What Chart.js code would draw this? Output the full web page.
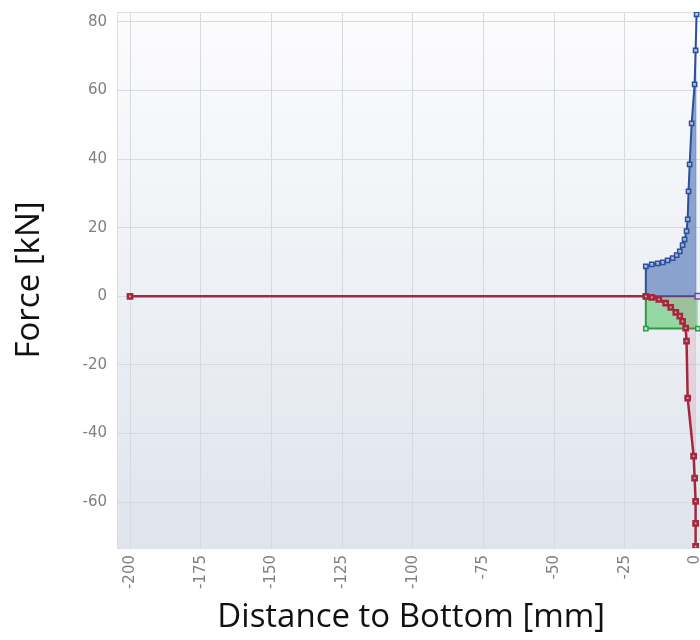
<!DOCTYPE html>
<html>
<head>
<meta charset="utf-8">
<script src="https://cdn.jsdelivr.net/npm/chart.js@4.4.1/dist/chart.umd.min.js"></script>
<style>
  html, body { margin: 0; padding: 0; background: #fff; }
  #wrap { width: 700px; height: 640px; overflow: hidden; }
</style>
</head>
<body>
<div id="wrap"><canvas id="forceChart" width="712" height="640"></canvas></div>
<script>
// tick labels
const xTicks = [-200, -175, -150, -125, -100, -75, -50, -25, 0];
const yTicks = [-60, -40, -20, 0, 20, 40, 60, 80];

// upper force curve (blue)
const blueDist  = [-17.6, -17.6, -15.5, -13.4, -11.6, -9.9, -8.1, -6.7, -5.6, -4.6, -3.9, -3.2, -2.8, -2.5, -2.1, -1.4, -0.35, 0, 0.35];
const blueForce = [0, 8.7, 9.3, 9.6, 9.9, 10.5, 11.1, 12.0, 13.1, 14.9, 16.6, 19.0, 22.4, 30.6, 38.5, 50.4, 61.8, 71.7, 82.2];

// lower force curve (red)
const redDist  = [-200, -17.6, -15.5, -13, -10.6, -8.8, -7.0, -5.6, -4.6, -3.5, -3.2, -2.8, -0.7, -0.35, 0, 0, 0];
const redForce = [0, 0, -0.3, -0.9, -2.0, -3.2, -4.7, -5.8, -7.3, -9.3, -13.1, -29.7, -46.6, -53, -59.8, -66.2, -72.9];

// step (green)
const greenDist  = [-17.6, -17.6, 0.8];
const greenForce = [0, -9.4, -9.4];

// zero line (purple)
const purpleDist  = [-17.6, 0.8];
const purpleForce = [0, 0];

function pts(xs, ys) {
    return xs.map((x, i) => ({ x: x, y: ys[i] }));
}

const plotBackground = {
    id: 'plotBackground',
    beforeDraw(chart) {
        const { ctx, chartArea: a } = chart;
        const g = ctx.createLinearGradient(0, a.top, 0, a.bottom);
        g.addColorStop(0, '#fcfcfd');
        g.addColorStop(1, '#dfe4ed');
        ctx.save();
        ctx.fillStyle = g;
        ctx.fillRect(a.left, a.top, a.right - a.left, a.bottom - a.top);
        ctx.strokeStyle = '#dcdfe4';
        ctx.lineWidth = 1;
        ctx.strokeRect(a.left + 0.5, a.top + 0.5, a.right - a.left, a.bottom - a.top);
        ctx.restore();
    }
};

const ctx = document.getElementById('forceChart').getContext('2d');
new Chart(ctx, {
    type: 'line',
    data: {
        datasets: [
            {
                label: 'red',
                data: pts(redDist, redForce),
                borderColor: '#a3283d',
                backgroundColor: 'rgba(200, 70, 100, 0.15)',
                pointBackgroundColor: 'rgba(240, 190, 200, 0.8)',
                pointBorderColor: '#a3283d',
                borderWidth: 2.5,
                fill: 'origin'
            },
            {
                label: 'purple',
                data: pts(purpleDist, purpleForce),
                borderColor: '#5a3c8c',
                pointBackgroundColor: 'rgba(230, 220, 245, 0.9)',
                pointBorderColor: '#6a48a8',
                pointRadius: [0, 4],
                fill: false
            },
            {
                label: 'blue',
                data: pts(blueDist, blueForce),
                borderColor: '#2b4f98',
                backgroundColor: 'rgba(70, 110, 180, 0.6)',
                pointBackgroundColor: 'rgba(190, 205, 235, 0.8)',
                pointBorderColor: '#2b4f98',
                fill: 'origin'
            },
            {
                label: 'green',
                data: pts(greenDist, greenForce),
                borderColor: '#2f9a45',
                backgroundColor: 'rgba(90, 200, 110, 0.6)',
                pointBackgroundColor: 'rgba(200, 240, 205, 0.9)',
                pointBorderColor: '#2f9a45',
                fill: 'origin'
            }
        ]
    },
    options: {
        responsive: false,
        animation: false,
        layout: { padding: { top: 12, right: 4, left: 0, bottom: 0 } },
        elements: {
            line: { borderWidth: 2, tension: 0 },
            point: { pointStyle: 'rect', radius: 3, borderWidth: 1.5 }
        },
        plugins: {
            legend: { display: false },
            tooltip: { enabled: false }
        },
        scales: {
            x: {
                type: 'linear',
                min: -204.6,
                max: 3.5,
                afterBuildTicks: s => { s.ticks = xTicks.map(v => ({ value: v })); },
                afterFit: s => { s.height = 92; s.paddingLeft = 0; s.paddingRight = 0; },
                grid: { color: '#d6dae0', drawTicks: false },
                border: { display: false },
                ticks: {
                    minRotation: 90,
                    maxRotation: 90,
                    padding: 7,
                    color: '#808080',
                    font: { family: 'DejaVu Sans', size: 15 }
                },
                title: {
                    display: true,
                    text: 'Distance to Bottom [mm]',
                    color: '#111',
                    font: { family: 'Open Sans', size: 33 },
                    padding: { top: 0, bottom: 3 }
                }
            },
            y: {
                min: -73.4,
                max: 82.9,
                afterBuildTicks: s => { s.ticks = yTicks.map(v => ({ value: v })); },
                afterFit: s => { s.width = 117; s.paddingTop = 0; s.paddingBottom = 0; },
                grid: { color: '#d6dae0', drawTicks: false },
                border: { display: false },
                ticks: {
                    padding: 10,
                    color: '#808080',
                    font: { family: 'DejaVu Sans', size: 15 }
                },
                title: {
                    display: true,
                    text: 'Force [kN]',
                    color: '#111',
                    font: { family: 'Open Sans', size: 33 },
                    padding: { top: 10, bottom: 0 }
                }
            }
        }
    },
    plugins: [plotBackground]
});
</script>
</body>
</html>
